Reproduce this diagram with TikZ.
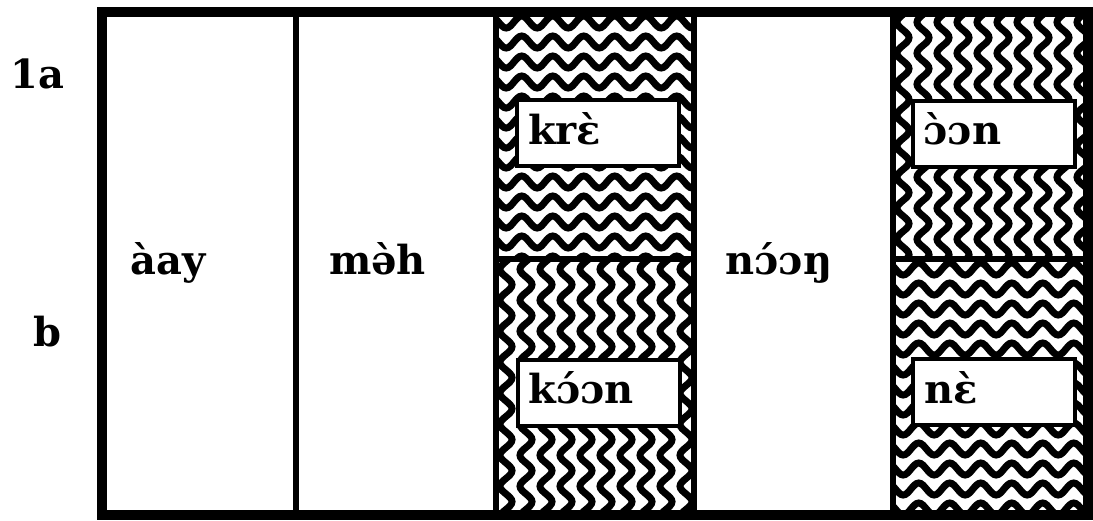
\documentclass[tikz,border=0pt]{standalone}
\usepackage{fontspec}
\setmainfont{DejaVu Serif}
\usetikzlibrary{decorations.pathmorphing,positioning}

\tikzset{
  wave/.style={line width=7pt,decorate,decoration={snake,segment length=31pt,amplitude=6pt}},
  hwaves/.style={path picture={
    \foreach \k in {0,...,13}
      \draw[wave] ([xshift=-15pt,yshift=-\k*20pt-10pt]path picture bounding box.north west)
        -- ([xshift=15pt,yshift=-\k*20pt-10pt]path picture bounding box.north east);}},
  vwaves/.style={path picture={
    \foreach \k in {0,...,10}
      \draw[wave] ([xshift=\k*20pt+10pt,yshift=15pt]path picture bounding box.north west)
        -- ([xshift=\k*20pt+10pt,yshift=-15pt]path picture bounding box.south west);}}
}

\begin{document}
\begin{tikzpicture}[
  x=1pt,y=-1pt,
  word/.style={font=\fontsize{40}{40}\selectfont\bfseries,text height=30pt,text depth=8pt,inner sep=0pt},
  cell/.style={draw,line width=6pt,inner sep=0pt,minimum height=#1},
  cell/.default=503pt,
  wordbox/.style={draw,line width=4pt,fill=white,minimum width=162pt,minimum height=66pt,
    inner xsep=11pt,inner ysep=0pt,text width=140pt,align=left,word},
  frame/.style={draw,line width=10pt,inner sep=0pt,minimum width=986pt,minimum height=503pt}
]
\useasboundingbox (0,0) rectangle (1093,520);

% columns
\node[cell,minimum width=194pt] (c1) at (199,263.5) {};
\node[cell,minimum width=200pt] (c2) at (396,263.5) {};
\node[cell=247pt,minimum width=198pt,hwaves] (c3a) at (595,135.5) {};
\node[cell=256pt,minimum width=198pt,vwaves] (c3b) at (595,387) {};
\node[cell,minimum width=199pt] (c4) at (793.5,263.5) {};
\node[cell=247pt,minimum width=195pt,vwaves] (c5a) at (990.5,135.5) {};
\node[cell=256pt,minimum width=195pt,hwaves] (c5b) at (990.5,387) {};

% words in the plain columns
\node[word,anchor=west] (w1) at ([xshift=31pt]c1.west) {àay};
\node[word,anchor=west] (w2) at ([xshift=36pt]c2.west) {mə̀h};
\node[word,anchor=west] (w4) at ([xshift=34pt]c4.west) {nɔ́ɔŋ};

% boxed words
\node[wordbox] (b3a) at (598,133) {krɛ̀};
\node[wordbox] (b3b) at (598.5,392.5) {kɔ́ɔn};
\node[wordbox] (b5a) at (993.5,133.5) {ɔ̀ɔn};
\node[wordbox] (b5b) at (994,392) {nɛ̀};

\node[frame] (fr) at (595,263.5) {};

% row labels
\node[word,anchor=base west] (la) at (10,88) {1a};
\node[word,anchor=base west] (lb) at (33,346) {b};
\end{tikzpicture}
\end{document}
